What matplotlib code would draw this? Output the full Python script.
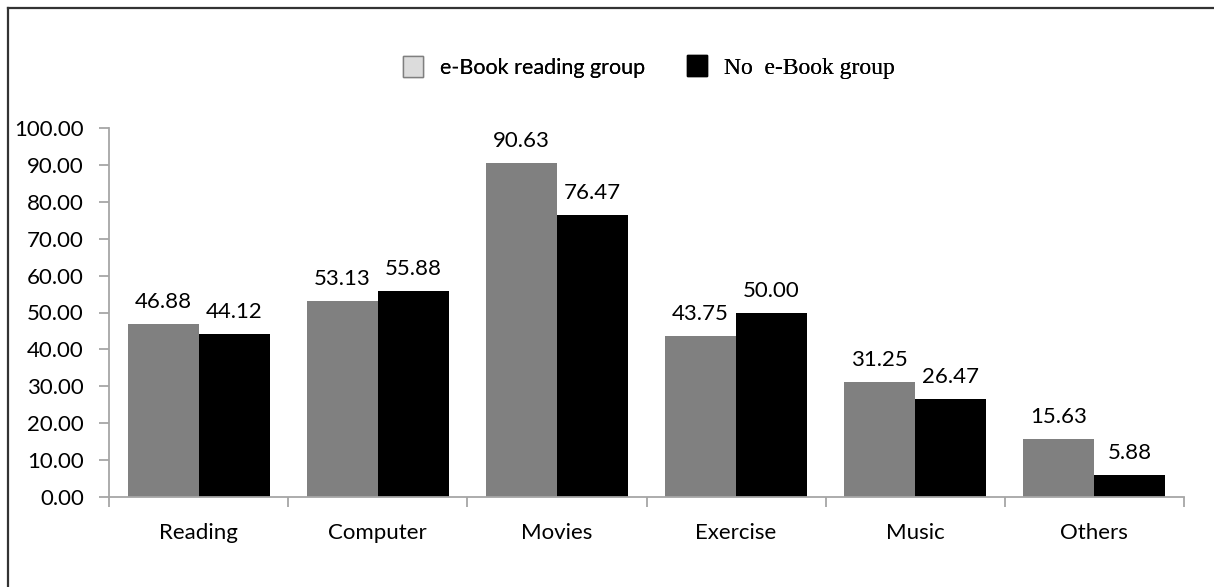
import matplotlib.pyplot as plt
import numpy as np
from matplotlib.patches import Patch
from matplotlib.lines import Line2D

categories = ['Reading', 'Computer', 'Movies', 'Exercise', 'Music', 'Others']
ebook_group = [46.88, 53.13, 90.63, 43.75, 31.25, 15.63]
no_ebook_group = [44.12, 55.88, 76.47, 50.00, 26.47, 5.88]
series_labels = ['e-Book reading group', 'No  e-Book group']

plt.rcParams['font.family'] = ['Lato', 'DejaVu Sans']

fig = plt.figure(figsize=(12.14, 5.87), dpi=100)
ax = fig.add_axes([109/1214, 1 - 497/587, (1184 - 109)/1214, (497 - 128)/587])

x = np.arange(len(categories))
w = 0.396
b1 = ax.bar(x - w/2, ebook_group, w, color='#808080')
b2 = ax.bar(x + w/2, no_ebook_group, w, color='#000000')

for bars, vals in ((b1, ebook_group), (b2, no_ebook_group)):
    for r, v in zip(bars, vals):
        ax.annotate('%.2f' % v, (r.get_x() + r.get_width()/2, v),
                    xytext=(0, 11.5), textcoords='offset points',
                    ha='center', va='baseline', fontsize=16)

ax.set_xlim(-0.5, len(categories) - 0.5)
ax.set_ylim(0, 100)
ax.set_yticks(np.arange(0, 101, 10))
ax.set_yticklabels(['%.2f' % t for t in np.arange(0, 101, 10)])
ax.set_xticks(x)
ax.set_xticklabels(categories)
ax.set_xticks(np.arange(-0.5, len(categories), 1), minor=True)

for s in ('top', 'right'):
    ax.spines[s].set_visible(False)
for s in ('left', 'bottom'):
    ax.spines[s].set_color('#a6a6a6')
    ax.spines[s].set_linewidth(1.3)

ax.tick_params(axis='y', length=7, width=1.3, color='#a6a6a6', pad=11, labelsize=16)
ax.tick_params(axis='x', which='major', length=0, pad=19, labelsize=16)
ax.tick_params(axis='x', which='minor', length=7, width=1.3, color='#a6a6a6')

# legend: two single-entry legends so each can sit where the reference has it
handles = [Patch(facecolor='#dcdcdc', edgecolor='#7f7f7f', linewidth=1.0),
           Patch(facecolor='#000000', edgecolor='#000000')]
leg_x = [403, 687]
leg_font = [['Lato'], ['Liberation Serif']]
leg_size = [15.5, 17]
for h, lab, px, fam, fs in zip(handles, series_labels, leg_x, leg_font, leg_size):
    lg = fig.legend([h], [lab], loc='center left',
                    bbox_to_anchor=(px/1214, 1 - 67/587), frameon=False,
                    prop={'family': fam, 'size': fs},
                    handlelength=20/(fs*1.389), handleheight=24/(fs*1.389),
                    handletextpad=17/(fs*1.389), borderpad=0, borderaxespad=0)
    fig.add_artist(lg)

# outer frame (only top and left edges visible)
fig.add_artist(Line2D([8/1214, 1], [1 - 8/587, 1 - 8/587], color='#333333', lw=1.6,
                      transform=fig.transFigure))
fig.add_artist(Line2D([8/1214, 8/1214], [0, 1 - 8/587], color='#333333', lw=1.6,
                      transform=fig.transFigure))

fig.savefig('out.png', dpi=100)
